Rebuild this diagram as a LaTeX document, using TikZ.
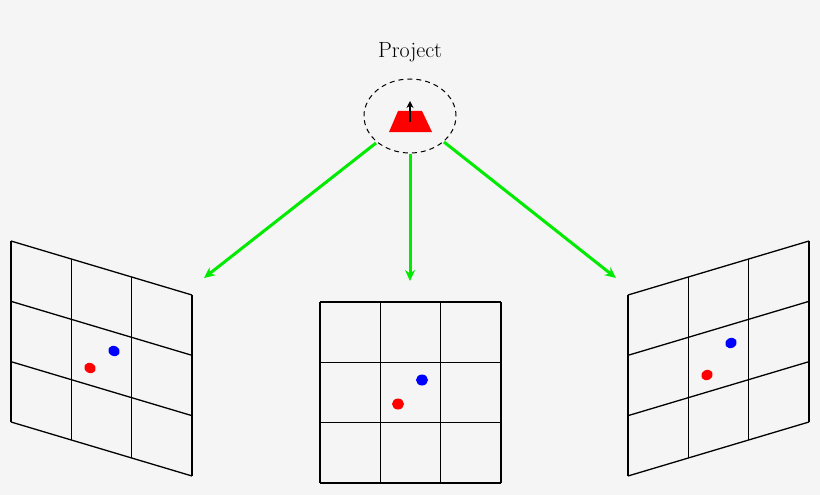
\documentclass[tikz,border=0pt]{standalone}
\usepackage{fontspec}
\usetikzlibrary{arrows.meta,shapes.geometric}
\begin{document}
\begin{tikzpicture}[x=1pt,y=-1pt,
  gridline/.style={line width=1.3pt,black},
  flow/.style={line width=3pt,color={rgb,255:red,0;green,235;blue,0},-{Stealth[length=11pt,width=10pt]}},
  dotr/.style={fill=red,draw=none},
  dotb/.style={fill=blue,draw=none}]
\fill[color={rgb,255:red,245;green,245;blue,245}] (0,0) rectangle (820,495);
\node (title) at (410,52) {\fontsize{22}{26}\selectfont Project};
\node[ellipse,draw,dash pattern=on 5pt off 4pt,line width=1pt,minimum width=92pt,minimum height=74pt,inner sep=0pt] (cam) at (410,116) {};
\fill[red] (389,132) -- (398,111) -- (422,111) -- (432,132) -- cycle;
\draw[line width=1.8pt,-{Stealth[length=7pt,width=7pt]}] (410,122) -- (410,101);
\coordinate (tl) at (204,278);
\coordinate (tm) at (410,281);
\coordinate (tr) at (616,278);
\coordinate (sl) at (376,143);
\coordinate (sr) at (444,142);
\draw[flow] (sl) -- (tl);
\draw[flow] (cam.south) -- (tm);
\draw[flow] (sr) -- (tr);
% left grid
\begin{scope}[shift={(11,241)},x={(60.33pt,-18pt)},y={(0pt,-60.33pt)}]
\foreach \i in {0,1,2,3}{\draw[gridline] (\i,0) -- (\i,3); \draw[gridline] (0,\i) -- (3,\i);}
\end{scope}
% middle grid
\begin{scope}[shift={(320,302)},x={(60.33pt,0pt)},y={(0pt,-60.33pt)}]
\foreach \i in {0,1,2,3}{\draw[gridline] (\i,0) -- (\i,3); \draw[gridline] (0,\i) -- (3,\i);}
\end{scope}
% right grid
\begin{scope}[shift={(628,295)},x={(60.33pt,18pt)},y={(0pt,-60.33pt)}]
\foreach \i in {0,1,2,3}{\draw[gridline] (\i,0) -- (\i,3); \draw[gridline] (0,\i) -- (3,\i);}
\end{scope}
\fill[dotr,rotate around={-30:(90,368)}] (90,368) ellipse (6 and 5);
\fill[dotb,rotate around={-30:(114,351)}] (114,351) ellipse (6 and 5);
\fill[dotr] (398,404) ellipse (6 and 5.5);
\fill[dotb] (422,380) ellipse (6 and 5.5);
\fill[dotr,rotate around={30:(707,375)}] (707,375) ellipse (6 and 5);
\fill[dotb,rotate around={30:(731,343)}] (731,343) ellipse (6 and 5);
\end{tikzpicture}
\end{document}
